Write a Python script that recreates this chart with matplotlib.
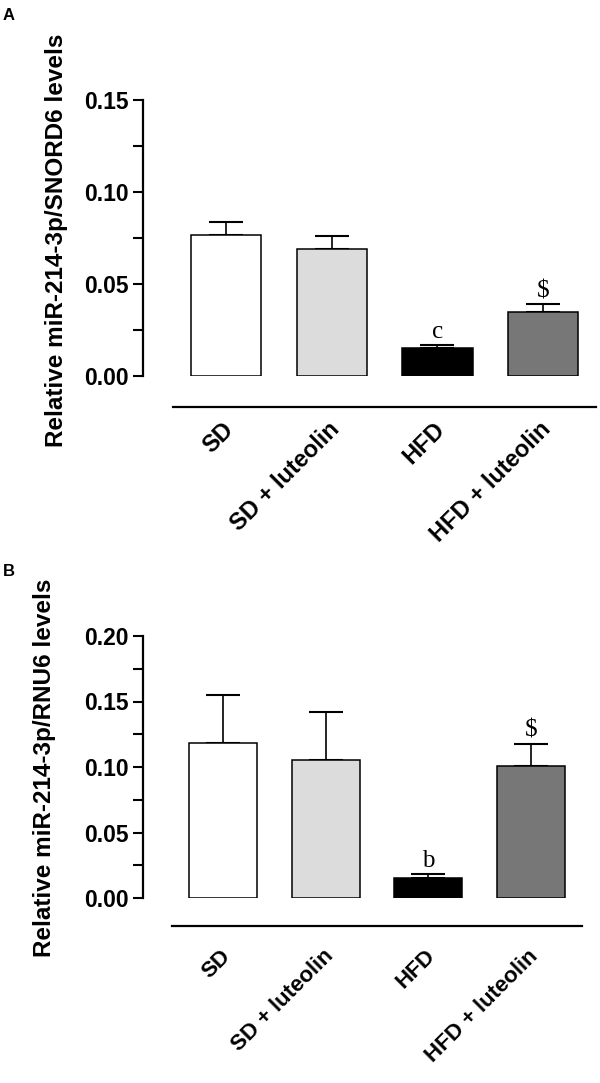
import matplotlib
matplotlib.use("Agg")
import matplotlib.pyplot as plt
import numpy as np

plt.rcParams['font.family'] = ['Liberation Sans', 'DejaVu Sans']

groups = ["SD", "SD + luteolin", "HFD", "HFD + luteolin"]
colors = ["#ffffff", "#dcdcdc", "#000000", "#777777"]

mean_a = [0.0766, 0.0690, 0.0152, 0.0348]
err_a = [0.0071, 0.0071, 0.0016, 0.0042]
marks_a = ["", "", "c", "$"]

mean_b = [0.118, 0.105, 0.0153, 0.1008]
err_b = [0.037, 0.037, 0.0027, 0.0168]
marks_b = ["", "", "b", "$"]

W, H = 600, 1083
fig = plt.figure(figsize=(W / 100, H / 100), dpi=100)


def panel(rect, means, errs, marks, ymax, yticks, out_pt, lab_y, fs):
    ax = fig.add_axes(rect)
    x = np.arange(len(means))
    ax.bar(x, means, width=0.665, color=colors, edgecolor="black", linewidth=1.1, zorder=3)
    ax.errorbar(x, means, yerr=[np.zeros(len(errs)), errs], fmt="none", ecolor="black",
                elinewidth=1.2, capsize=12, capthick=1.5, zorder=2)
    for xi, m, e, t in zip(x, means, errs, marks):
        if t:
            ax.annotate(t, (xi, m + e), xytext=(0, 1.5), textcoords="offset points",
                        ha="center", va="bottom", fontsize=18, family="Liberation Serif")
    ax.set_xlim(-0.785, 3.5)
    ax.set_ylim(0, ymax)
    ax.set_yticks(yticks)
    ax.set_yticklabels(["%.2f" % v for v in yticks], fontsize=16.5, fontweight="bold")
    ax.set_yticks(np.arange(0.025, ymax, 0.05), minor=True)
    ax.tick_params(axis="y", which="both", length=7, width=1.5, pad=3)
    ax.spines["left"].set_linewidth(1.6)
    ax.spines["top"].set_visible(False)
    ax.spines["right"].set_visible(False)
    ax.spines["bottom"].set_position(("outward", out_pt))
    ax.spines["bottom"].set_bounds(-0.5, 3.5)
    ax.spines["bottom"].set_linewidth(1.6)
    ax.set_xticks([])
    for xi, g in zip(x, groups):
        ax.text(xi + 0.04, lab_y, g, transform=ax.get_xaxis_transform(), rotation=45,
                rotation_mode="anchor", ha="right", va="center", fontsize=fs,
                fontweight="bold")
    return ax


axA = panel([143 / W, 1 - 376 / H, 453 / W, 276 / H], mean_a, err_a, marks_a, 0.15,
            [0, 0.05, 0.10, 0.15], 22.3, -0.181, 17)
axB = panel([143 / W, 1 - 898 / H, 439 / W, 262 / H], mean_b, err_b, marks_b, 0.20,
            [0, 0.05, 0.10, 0.15, 0.20], 20.2, -0.21, 16)

fig.text(57 / W, 1 - 240 / H, "Relative miR-214-3p/SNORD6 levels", rotation=90,
         ha="center", va="center", fontsize=17.5, fontweight="bold")
fig.text(45 / W, 1 - 768 / H, "Relative miR-214-3p/RNU6 levels", rotation=90,
         ha="center", va="center", fontsize=17.5, fontweight="bold")
fig.text(3 / W, 1 - 16 / H, "A", ha="left", va="center", fontsize=12, fontweight="bold")
fig.text(3 / W, 1 - 571 / H, "B", ha="left", va="center", fontsize=12, fontweight="bold")

fig.savefig("out.png", dpi=100)
